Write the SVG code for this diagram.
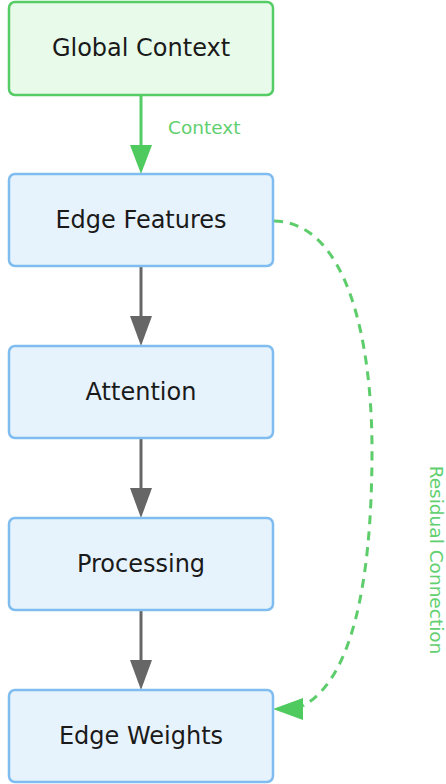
<svg xmlns="http://www.w3.org/2000/svg" width="446" height="784" viewBox="0 0 446 784">
<style>
.n rect{stroke-width:2.5}
.g rect{fill:#e8fbea;stroke:#55cc66}
.b rect{fill:#e6f3fd;stroke:#7fbcf0}
.t{font-family:"DejaVu Sans",sans-serif;font-size:24px;fill:#1a1a1a;text-anchor:middle}
.lbl{font-family:"DejaVu Sans",sans-serif;font-size:18.5px;fill:#62cf70}
</style>
<g id="connectors">
<line x1="141" y1="96" x2="141" y2="147" stroke="#55cc66" stroke-width="3"/>
<path d="M130,145 L152,145 L141,174 Z" fill="#4fca5e"/>
<text class="lbl" x="168" y="134">Context</text>
<line x1="141" y1="267" x2="141" y2="318" stroke="#666" stroke-width="3"/>
<path d="M130,316 L152,316 L141,346 Z" fill="#666"/>
<line x1="141" y1="439" x2="141" y2="490" stroke="#666" stroke-width="3"/>
<path d="M130,488 L152,488 L141,518 Z" fill="#666"/>
<line x1="141" y1="611" x2="141" y2="662" stroke="#666" stroke-width="3"/>
<path d="M130,660 L152,660 L141,690 Z" fill="#666"/>
<path d="M274,221 C345,222 372,335 372,450 C372,590 350,680 303,706" fill="none" stroke="#5ccd6a" stroke-width="3" stroke-dasharray="9,7"/>
<path d="M273,709 L303,698 L303,720 Z" fill="#4fca5e"/>
<text class="lbl" font-size="18.5" transform="translate(430,560) rotate(90)" text-anchor="middle">Residual Connection</text>
</g>
<g id="global-context" class="n g"><rect x="9" y="2" width="264" height="93" rx="6"/><text class="t" x="141" y="55.5">Global Context</text></g>
<g id="edge-features" class="n b"><rect x="9" y="174" width="264" height="92" rx="6"/><text class="t" x="141" y="227.5">Edge Features</text></g>
<g id="attention" class="n b"><rect x="9" y="346" width="264" height="92" rx="6"/><text class="t" x="141" y="399.5">Attention</text></g>
<g id="processing" class="n b"><rect x="9" y="518" width="264" height="92" rx="6"/><text class="t" x="141" y="571.5">Processing</text></g>
<g id="edge-weights" class="n b"><rect x="9" y="690" width="264" height="92" rx="6"/><text class="t" x="141" y="743.5">Edge Weights</text></g>
</svg>
